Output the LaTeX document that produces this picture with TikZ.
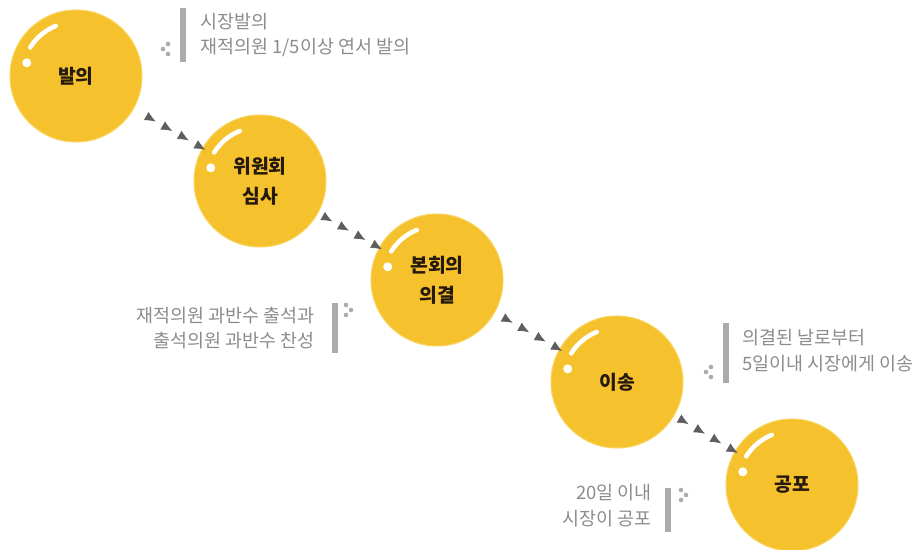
\documentclass[tikz,border=0pt]{standalone}
\usepackage{fontspec}
\setmainfont{Noto Sans CJK KR}
\usetikzlibrary{arrows.meta,decorations.markings}
\definecolor{bubbleyellow}{HTML}{F5C22E}
\definecolor{bubbleedge}{HTML}{F9D35C}
\definecolor{notegray}{HTML}{8C8C8C}
\definecolor{bargray}{HTML}{ABABAB}
\definecolor{flowgray}{HTML}{5E5E5E}

\begin{document}
\begin{tikzpicture}[x=0.02cm,y=-0.02cm,
  bubble/.style={circle,fill=bubbleyellow,draw=bubbleedge,line width=0.6pt,
    minimum size=2.64cm,inner sep=0pt,align=center,
    font=\fontsize{11}{17}\selectfont\bfseries,text=black!80!brown,
    path picture={
      \draw[white,line width=0.9mm,line cap=round]
        ([shift={(148:1.08cm)}]path picture bounding box.center)
        arc[start angle=148,end angle=112,radius=1.08cm];
      \fill[white] ([shift={(165:1.02cm)}]path picture bounding box.center) circle (0.9mm);
    }},
  note/.style={text=notegray,font=\fontsize{10.5}{14.7}\selectfont,inner sep=0pt},
  flow/.style={decoration={markings,
    mark=between positions 0.15cm and 1 step 0.38cm with
      {\arrow[flowgray]{Latex[reversed,length=2.2mm,width=1.9mm]}}},
    postaction={decorate}}]
\useasboundingbox (0,0) rectangle (921,550);

\node[bubble] (balui) at (76,76) {발의};
\node[bubble] (wiwon) at (260,181) {위원회\\심사};
\node[bubble] (bonhoe) at (437,280) {본회의\\의결};
\node[bubble] (isong) at (617,382) {이송};
\node[bubble] (gongpo) at (792,485) {공포};

\path[flow] (wiwon) -- (balui);
\path[flow] (bonhoe) -- (wiwon);
\path[flow] (isong) -- (bonhoe);
\path[flow] (gongpo) -- (isong);

\node[note,anchor=west,align=left] (note1) at (200,35) {시장발의\\재적의원 1/5이상 연서 발의};
\node[note,anchor=east,align=right] (note2) at (315,328) {재적의원 과반수 출석과\\출석의원 과반수 찬성};
\node[note,anchor=west,align=left] (note3) at (742,351) {의결된 날로부터\\5일이내 시장에게 이송};
\node[note,anchor=east,align=right] (note4) at (652,506) {20일 이내\\시장이 공포};

\fill[bargray] (180,8) rectangle (186,62);
\fill[bargray] (332,303) rectangle (338,353);
\fill[bargray] (723,323) rectangle (729,383);
\fill[bargray] (665,488) rectangle (671,532);

\foreach \x/\y in {165/49,708/372}
  \fill[bargray] (\x+3,\y-5) circle (1.3pt) (\x-2,\y) circle (1.3pt) (\x+3,\y+5) circle (1.3pt);
\foreach \x/\y in {349/310,684/495}
  \fill[bargray] (\x-3,\y-5) circle (1.3pt) (\x+2,\y) circle (1.3pt) (\x-3,\y+5) circle (1.3pt);
\end{tikzpicture}
\end{document}
